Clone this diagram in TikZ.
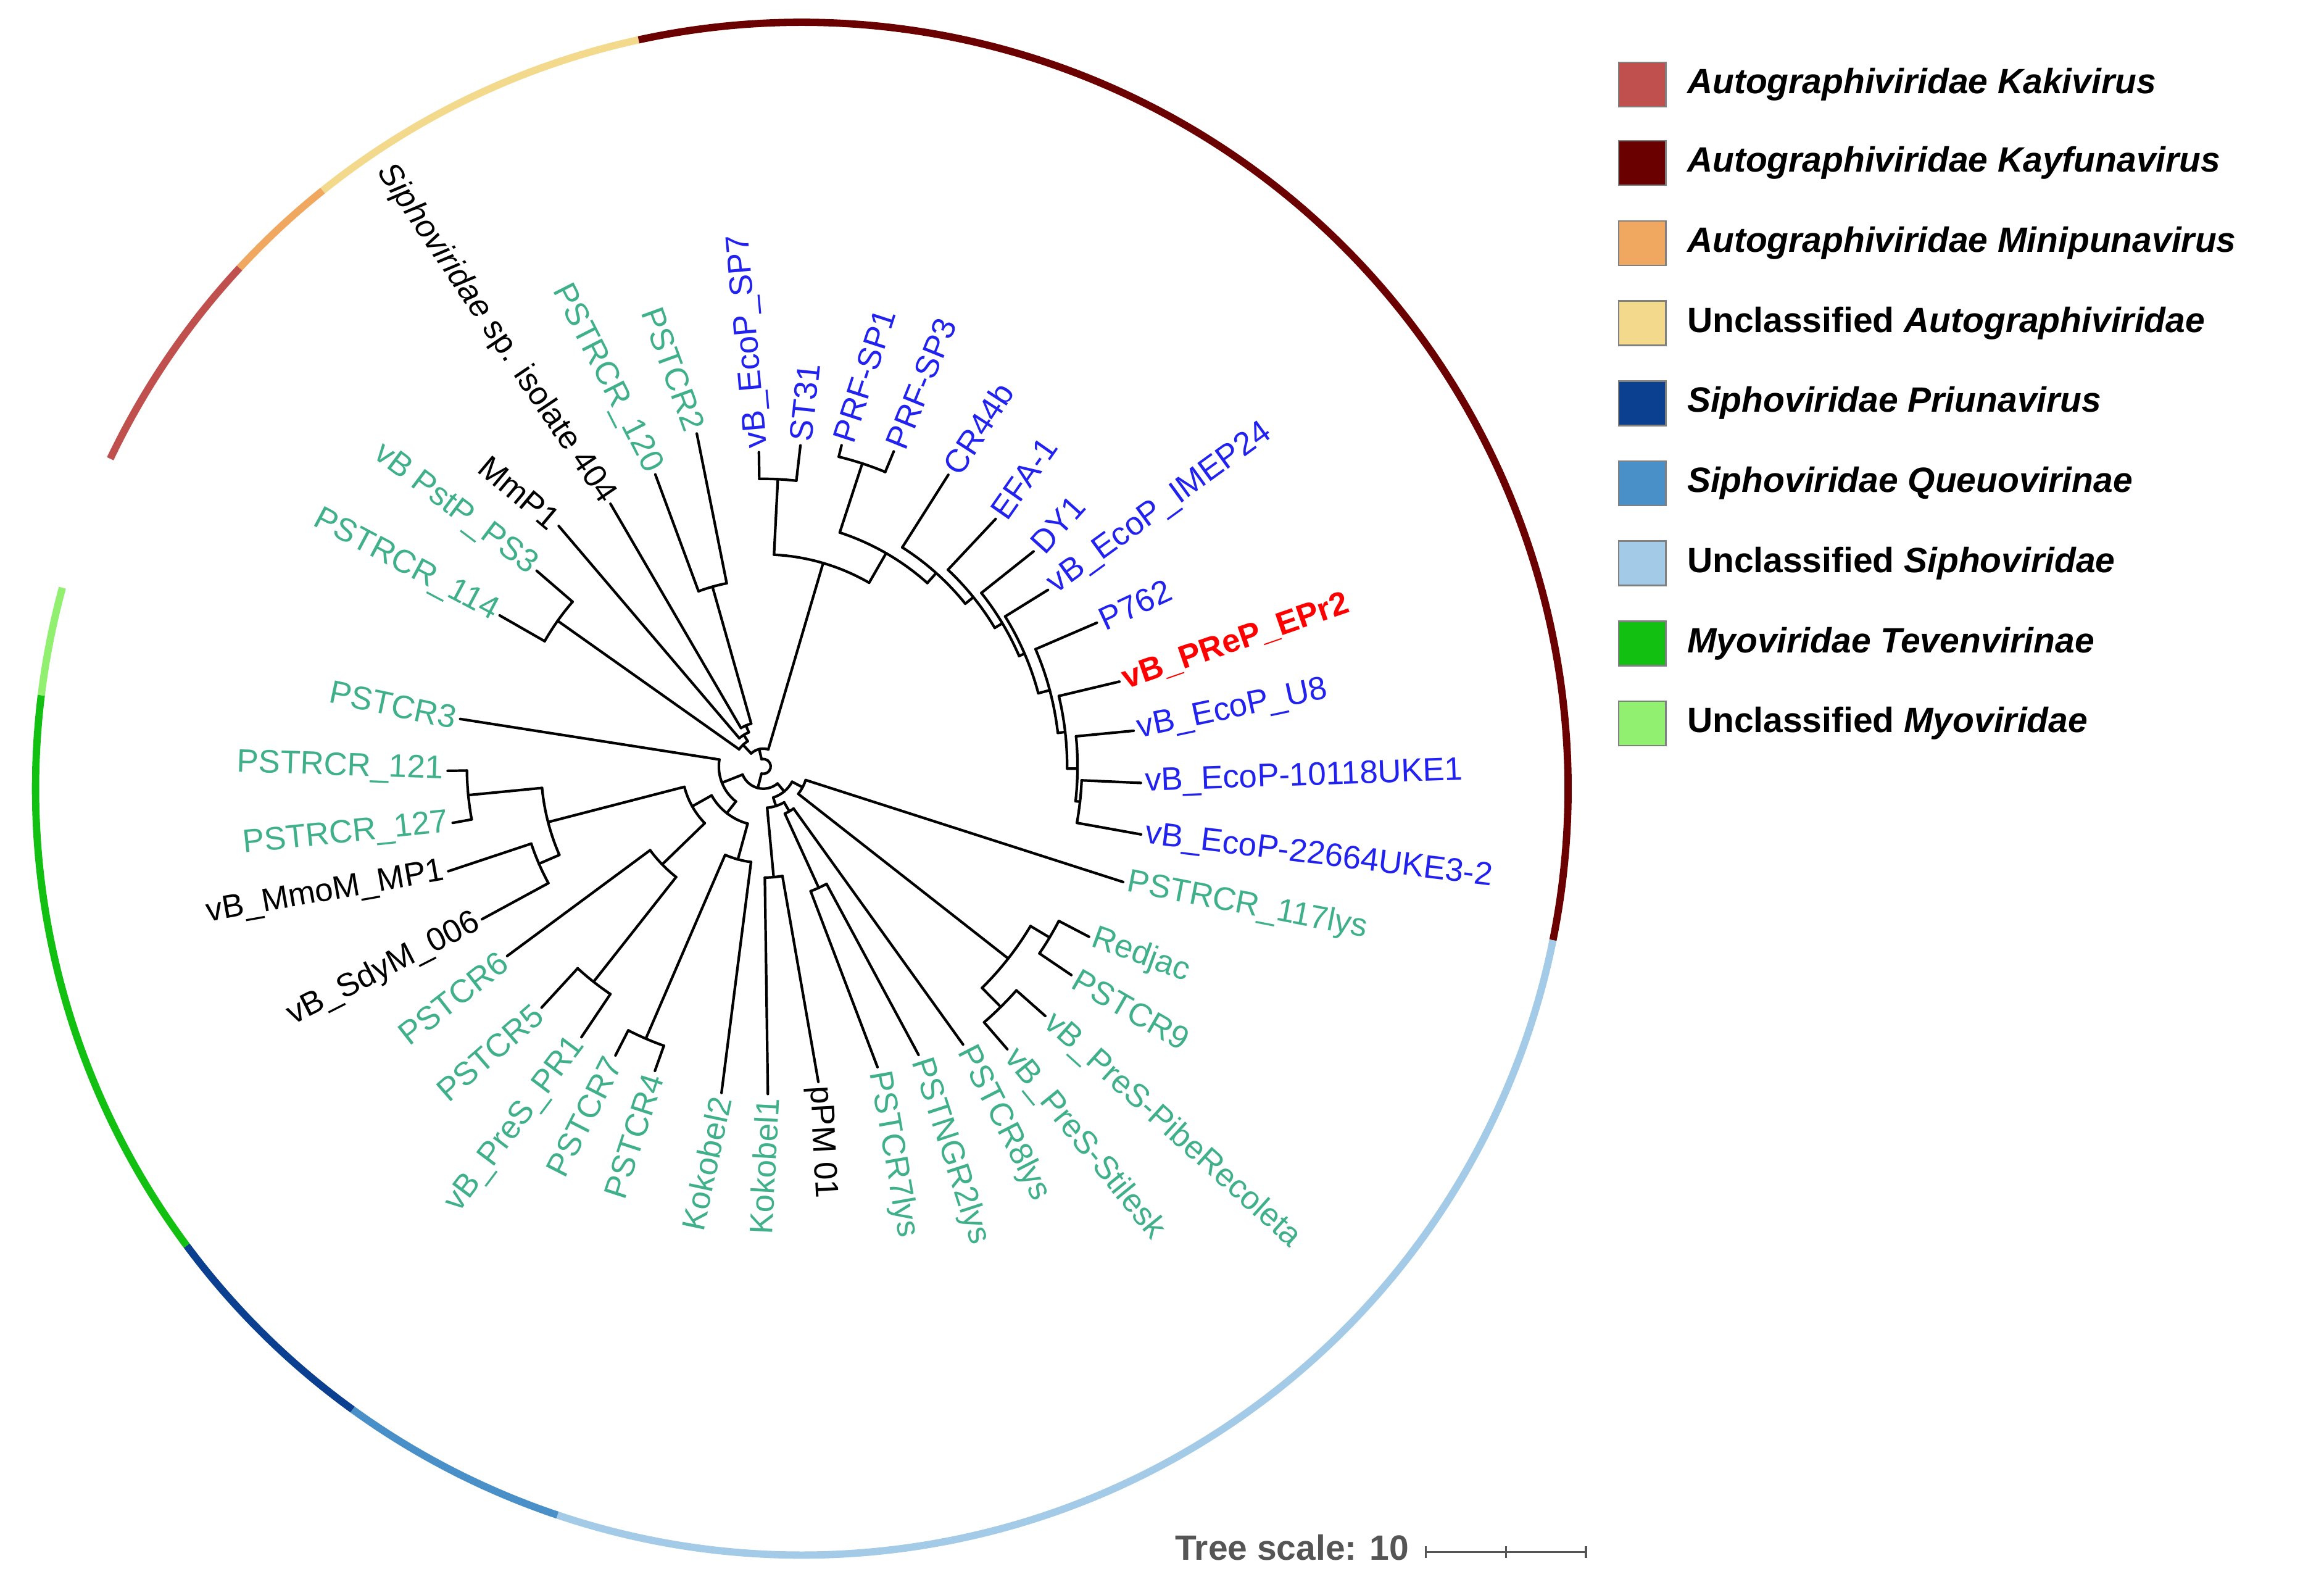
\documentclass[tikz,border=0pt]{standalone}
\usepackage{fontspec}
\setmainfont{Liberation Sans}
\usetikzlibrary{calc}
\definecolor{kaki}{HTML}{C0504D}
\definecolor{kayf}{HTML}{6B0000}
\definecolor{mini}{HTML}{F0A860}
\definecolor{unau}{HTML}{F2D98C}
\definecolor{priu}{HTML}{0B3F8F}
\definecolor{queu}{HTML}{4A90C8}
\definecolor{unsi}{HTML}{A3CAE6}
\definecolor{teve}{HTML}{12C012}
\definecolor{unmy}{HTML}{92F070}
\definecolor{lgreen}{HTML}{3FB08A}
\definecolor{lblue}{HTML}{2222F0}
\definecolor{sgray}{HTML}{555555}
\tikzset{
  br/.style={line width=1pt,black,line cap=round},
  ring/.style={line width=2.8pt},
  lab/.style={font=\fontsize{12.5}{14}\selectfont,inner sep=1.5pt},
  labg/.style={lab,text=lgreen},
  labb/.style={lab,text=lblue},
  labk/.style={lab,text=black},
  legbox/.style={draw=gray,line width=0.6pt},
  legtxt/.style={font=\fontsize{13.5}{16}\selectfont\bfseries,anchor=west,inner sep=0pt}
}
\newcommand\rad[3]{\draw[br] (#1:#2) -- (#1:#3);}
\newcommand\arcs[3]{\draw[br] (#1:#3) arc[start angle=#1, end angle=#2, radius=#3];}
\newcommand\labright[6]{\node[#5,anchor=west,rotate=#4] (#1) at (#2:#3) {#6};}
\newcommand\lableft[6]{\node[#5,anchor=east,rotate=#4] (#1) at (#2:#3) {#6};}
\newcommand\ringarc[3]{\draw[ring,#1] (26,-15) ++(#2:517) arc[start angle=#2,end angle=#3,radius=517];}
\begin{document}
\begin{tikzpicture}[x=0.02cm,y=0.02cm]
\useasboundingbox (-515,-550) rectangle (1053,517);
% ring
\ringarc{kaki}{137.2}{154.5}
\ringarc{mini}{128.7}{137.2}
\ringarc{unau}{102.3}{128.7}
\ringarc{kayf}{-11.4}{102.3}
\ringarc{unsi}{-108.6}{-11.4}
\ringarc{queu}{-125.9}{-108.6}
\ringarc{priu}{-143.4}{-125.9}
\ringarc{teve}{-187}{-143.4}
\ringarc{unmy}{-195.2}{-187}
% ---------- tree ----------
\arcs{-104.3}{103.4}{5}
\rad{103.4}{5}{12}
\rad{-104.3}{5}{15}
\arcs{73.6}{133.2}{12}
\rad{133.2}{12}{20}
\rad{73.6}{12}{143}
\arcs{121.7}{144.7}{20}
\rad{144.7}{20}{170}
\rad{121.7}{20}{25}
\arcs{139.2}{150.2}{170}
\rad{150.2}{170}{205}
\rad{139.2}{170}{202}
\arcs{113}{130.4}{25}
\rad{130.4}{25}{213}
\rad{113}{25}{30}
\arcs{105.8}{120.2}{30}
\rad{120.2}{30}{205}
\rad{105.8}{30}{126}
\arcs{101.3}{110.3}{126}
\rad{110.3}{126}{210}
\rad{101.3}{126}{229}
\arcs{60.05}{87.1}{143}
\rad{87.1}{143}{194}
\rad{60.05}{143}{166}
\arcs{83.4}{90.8}{194}
\rad{90.8}{194}{212}
\rad{83.4}{194}{218}
\arcs{48.2}{71.9}{166}
\rad{71.9}{166}{215}
\rad{48.2}{166}{175}
\arcs{67.5}{76.3}{215}
\rad{76.3}{215}{223}
\rad{67.5}{215}{230}
\arcs{38.85}{57.6}{175}
\rad{57.6}{175}{233}
\rad{38.85}{175}{182}
\arcs{30.9}{46.8}{182}
\rad{46.8}{182}{229}
\rad{30.9}{182}{188}
\arcs{23.35}{38.5}{188}
\rad{38.5}{188}{233}
\rad{23.35}{188}{192}
\arcs{14.9}{31.8}{192}
\rad{31.8}{192}{226}
\rad{14.9}{192}{200}
\arcs{6.5}{23.3}{200}
\rad{23.3}{200}{245}
\rad{6.5}{200}{205}
\arcs{-0.4}{13.4}{205}
\rad{13.4}{205}{247}
\rad{-0.4}{205}{212}
\arcs{-6.35}{5.5}{212}
\rad{5.5}{212}{251}
\rad{-6.35}{212}{215}
\arcs{-10.2}{-2.5}{215}
\rad{-2.5}{215}{255}
\rad{-10.2}{215}{259}
\arcs{-158.45}{-50.1}{15}
\rad{-50.1}{15}{22}
\rad{-158.45}{15}{30}
\arcs{-72.3}{-27.95}{22}
\rad{-27.95}{22}{30}
\rad{-72.3}{22}{28}
\arcs{-38.1}{-17.8}{30}
\rad{-17.8}{30}{255}
\rad{-38.1}{30}{210}
\arcs{-45.35}{-30.85}{210}
\rad{-30.85}{210}{225}
\rad{-45.35}{210}{228}
\arcs{-34.1}{-27.6}{225}
\rad{-27.6}{225}{248}
\rad{-34.1}{225}{251}
\arcs{-49.2}{-41.5}{228}
\rad{-41.5}{228}{254}
\rad{-49.2}{228}{252}
\arcs{-84.65}{-59.9}{28}
\rad{-59.9}{28}{35}
\rad{-84.65}{28}{75}
\arcs{-65.45}{-54.3}{35}
\rad{-54.3}{35}{231}
\rad{-65.45}{35}{90}
\arcs{-69.2}{-61.7}{90}
\rad{-61.7}{90}{221}
\rad{-69.2}{90}{217}
\arcs{-89.2}{-80.1}{75}
\rad{-80.1}{75}{216}
\rad{-89.2}{75}{221}
\arcs{-188.9}{-128}{30}
\rad{-188.9}{30}{207}
\rad{-128}{30}{40}
\arcs{-150.7}{-105.3}{40}
\rad{-105.3}{40}{65}
\rad{-150.7}{40}{55}
\arcs{-113.35}{-97.3}{65}
\rad{-97.3}{65}{222}
\rad{-113.35}{65}{200}
\arcs{-117.1}{-109.6}{200}
\rad{-109.6}{200}{218}
\rad{-117.1}{200}{219}
\arcs{-165.5}{-135.9}{55}
\rad{-135.9}{55}{95}
\rad{-165.5}{55}{150}
\arcs{-143.5}{-128.25}{95}
\rad{-143.5}{95}{215}
\rad{-128.25}{95}{185}
\arcs{-132.6}{-123.9}{185}
\rad{-123.9}{185}{220}
\rad{-132.6}{185}{221}
\arcs{-174.45}{-156.55}{150}
\rad{-156.55}{150}{165}
\rad{-174.45}{150}{200}
\arcs{-161.6}{-151.5}{165}
\rad{-151.5}{165}{216}
\rad{-161.6}{165}{224}
\arcs{-179.2}{-169.7}{200}
\rad{-169.7}{200}{213}
\rad{-179.2}{200}{213}
% ---------- labels ----------
\labright{tSP7}{90.8}{212}{95}{labb}{vB\_EcoP\_SP7}
\labright{tST31}{83.4}{218}{84}{labb}{ST31}
\labright{tPRF1}{76.3}{223}{72}{labb}{PRF-SP1}
\labright{tPRF3}{67.5}{230}{68}{labb}{PRF-SP3}
\labright{tCR}{57.6}{233}{57}{labb}{CR44b}
\labright{tEFA}{46.8}{229}{55}{labb}{EFA-1}
\labright{tDY}{38.5}{233}{48}{labb}{DY1}
\labright{tIM}{31.8}{226}{36}{labb}{vB\_EcoP\_IMEP24}
\labright{tP762}{23.3}{245}{25}{labb}{P762}
\labright{tEPr}{13.4}{247}{19}{lab,text=red,font=\fontsize{12.5}{14}\selectfont\bfseries}{vB\_PReP\_EPr2}
\labright{tU8}{5.5}{251}{12}{labb}{vB\_EcoP\_U8}
\labright{t101}{-2.5}{255}{2}{labb}{vB\_EcoP-10118UKE1}
\labright{t226}{-10.2}{259}{-7}{labb}{vB\_EcoP-22664UKE3-2}
\labright{t117}{-17.8}{255}{-11}{labg}{PSTRCR\_117lys}
\labright{tRed}{-27.6}{248}{-20}{labg}{Redjac}
\labright{tC9}{-34.1}{251}{-30}{labg}{PSTCR9}
\labright{tPibe}{-41.5}{254}{-42}{labg}{vB\_PreS-PibeRecoleta}
\labright{tSti}{-49.2}{252}{-51}{labg}{vB\_PreS-Stilesk}
\labright{tC8}{-54.3}{231}{-63}{labg}{PSTCR8lys}
\labright{tNG}{-61.7}{221}{-72}{labg}{PSTNGR2lys}
\labright{tC7l}{-69.2}{217}{-80}{labg}{PSTCR7lys}
\labright{tpPM}{-80.1}{216}{-87}{labk}{pPM 01}
\lableft{tK1}{-89.2}{221}{87}{labg}{Kokobel1}
\lableft{tK2}{-97.3}{222}{78}{labg}{Kokobel2}
\lableft{tC4}{-109.6}{218}{72}{labg}{PSTCR4}
\lableft{tC7}{-117.1}{219}{63}{labg}{PSTCR7}
\lableft{tPR1}{-123.9}{220}{53}{labg}{vB\_PreS\_PR1}
\lableft{tC5}{-132.6}{221}{41}{labg}{PSTCR5}
\lableft{tC6}{-143.5}{215}{38}{labg}{PSTCR6}
\lableft{tSdy}{-151.5}{216}{27}{labk}{vB\_SdyM\_006}
\lableft{tMmo}{-161.6}{224}{10}{labk}{vB\_MmoM\_MP1}
\lableft{t127}{-169.7}{213}{6}{labg}{PSTRCR\_127}
\lableft{t121}{-179.2}{213}{-2}{labg}{PSTRCR\_121}
\lableft{tC3}{171.1}{207}{-12}{labg}{PSTCR3}
\lableft{t114}{150.2}{205}{-28}{labg}{PSTRCR\_114}
\lableft{tPS3}{139.2}{202}{-37}{labg}{vB PstP\_PS3}
\lableft{tMmP}{130.4}{213}{-40}{labk}{MmP1}
\lableft{tSiph}{120.2}{205}{-56}{labk}{\textit{Siphoviridae} sp. isolate 404}
\lableft{t120}{110.3}{210}{-63}{labg}{PSTRCR\_120}
\lableft{tC2}{101.3}{229}{-70}{labg}{PSTCR2}
% ---------- legend ----------
\foreach \c/\y/\t [count=\i] in {
 kaki/460/\textit{Autographiviridae Kakivirus},
 kayf/407/\textit{Autographiviridae Kayfunavirus},
 mini/353/\textit{Autographiviridae Minipunavirus},
 unau/299/Unclassified \textit{Autographiviridae},
 priu/245/\textit{Siphoviridae Priunavirus},
 queu/191/\textit{Siphoviridae Queuovirinae},
 unsi/137/Unclassified \textit{Siphoviridae},
 teve/83/\textit{Myoviridae Tevenvirinae},
 unmy/29/Unclassified \textit{Myoviridae}}{
 \draw[legbox,fill=\c] (577,\y-15) rectangle (609,\y+15);
 \node[legtxt] (leg\i) at (623,\y) {\t};
}
% ---------- tree scale ----------
\node[font=\fontsize{13.5}{16}\selectfont\bfseries,text=sgray,anchor=east,inner sep=0pt] (tscale) at (436,-527) {Tree scale: 10};
\coordinate (s0) at (447,-530);
\coordinate (s1) at (501,-530);
\coordinate (s2) at (555,-530);
\draw[sgray,line width=0.8pt] (s0) -- (s2);
\foreach \p in {s0,s1,s2}{\draw[sgray,line width=0.8pt] ($(\p)+(0,-4)$) -- ($(\p)+(0,4)$);}
\end{tikzpicture}
\end{document}
